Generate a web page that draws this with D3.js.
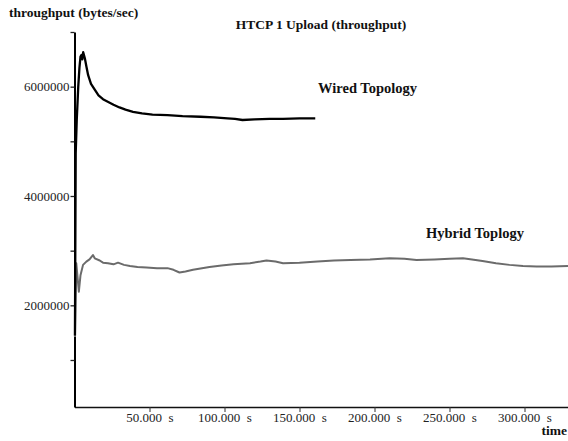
<!DOCTYPE html>
<html>
<head>
<meta charset="utf-8">
<script src="https://cdn.jsdelivr.net/npm/d3@7"></script>
<style>
  body { margin: 0; background: #fff; }
  svg { display: block; font-family: "Liberation Serif", "Times New Roman", serif; }
  .tick text { font-family: "Liberation Serif", "Times New Roman", serif; font-size: 13px; fill: #222; white-space: pre; }
  .label { font-weight: bold; fill: #111; }
</style>
</head>
<body>
<div id="chart"></div>
<script>
const svgWidth = 568
const svgHeight = 441

let margin = { top: 32, right: 0, bottom: 34, left: 74.5 }
let width = svgWidth - margin.left - margin.right
let height = svgHeight - margin.top - margin.bottom

// time in seconds, throughput in bytes/sec
const wiredTime = [0.3, 0.8, 1.5, 2.5, 3.3, 4, 4.7, 5.2, 5.8, 6.9, 8, 9.1, 11, 13.6, 16, 19, 22.5, 26, 30, 34, 39, 45, 52, 62, 72, 84, 93, 102, 107, 112, 120, 130, 139, 150, 160.5]
const wiredValue = [1.45e6, 4.78e6, 5.39e6, 6.0e6, 6.35e6, 6.55e6, 6.58e6, 6.5e6, 6.63e6, 6.52e6, 6.36e6, 6.21e6, 6.05e6, 5.94e6, 5.84e6, 5.77e6, 5.72e6, 5.67e6, 5.62e6, 5.58e6, 5.54e6, 5.51e6, 5.49e6, 5.48e6, 5.46e6, 5.45e6, 5.44e6, 5.42e6, 5.41e6, 5.39e6, 5.4e6, 5.41e6, 5.41e6, 5.42e6, 5.42e6]

const hybridTime = [0.3, 1.2, 2.9, 4, 5.7, 7.9, 10, 12.3, 13.5, 16.8, 19, 22.3, 26, 29, 33, 37, 42, 48, 55, 62, 66, 70, 74, 79, 85, 90, 98, 106, 117, 124, 128, 134, 139, 150, 162, 173, 184, 197, 210, 220, 228, 240, 250, 259, 265, 272, 281, 290, 299, 308, 318, 329]
const hybridValue = [1.42e6, 2.77e6, 2.25e6, 2.55e6, 2.74e6, 2.8e6, 2.84e6, 2.92e6, 2.86e6, 2.82e6, 2.78e6, 2.77e6, 2.75e6, 2.78e6, 2.74e6, 2.72e6, 2.7e6, 2.69e6, 2.68e6, 2.68e6, 2.65e6, 2.6e6, 2.62e6, 2.65e6, 2.68e6, 2.7e6, 2.73e6, 2.75e6, 2.77e6, 2.8e6, 2.82e6, 2.8e6, 2.77e6, 2.78e6, 2.8e6, 2.82e6, 2.83e6, 2.84e6, 2.86e6, 2.85e6, 2.83e6, 2.84e6, 2.85e6, 2.86e6, 2.84e6, 2.81e6, 2.77e6, 2.74e6, 2.72e6, 2.71e6, 2.71e6, 2.72e6]

const xTicks = [50, 100, 150, 200, 250, 300]
const yTicks = [1e6, 2e6, 3e6, 4e6, 5e6, 6e6, 7e6]
const yLabelled = [2e6, 4e6, 6e6]

let svg = d3
  .select("#chart")
  .append("svg")
  .attr("width", svgWidth)
  .attr("height", svgHeight)

let chartGroup = svg
  .append("g")
  .attr("transform", `translate(${margin.left}, ${margin.top})`)

let xScale = d3.scaleLinear().domain([0, 329]).range([0, width])
let yScale = d3.scaleLinear().domain([140000, 7000000]).range([height, 0])

let bottomAxis = d3
  .axisBottom(xScale)
  .tickValues(xTicks)
  .tickFormat(d => d.toFixed(3) + "  s")
  .tickSize(5)
  .tickSizeOuter(0)

let leftAxis = d3
  .axisLeft(yScale)
  .tickValues(yTicks)
  .tickFormat(d => (yLabelled.includes(d) ? d : ""))
  .tickSize(4)
  .tickSizeOuter(0)

let xAxis = chartGroup
  .append("g")
  .attr("transform", `translate(0, ${height})`)
  .call(bottomAxis)
  .attr("font-family", null)
  .attr("font-size", null)
xAxis.select(".domain").attr("stroke", "#111").attr("stroke-width", 1.6)
xAxis.selectAll(".tick line").attr("stroke", "#333")
xAxis.selectAll(".tick text").attr("dy", "0.55em")

let yAxis = chartGroup
  .append("g")
  .call(leftAxis)
  .attr("font-family", null)
  .attr("font-size", null)
yAxis.select(".domain").attr("stroke", "#000").attr("stroke-width", 2)
yAxis.selectAll(".tick line").attr("stroke", "#222").attr("stroke-width", 1.3)
yAxis.selectAll(".tick text").attr("x", -5)

let line = d3
  .line()
  .x(d => xScale(d[0]))
  .y(d => yScale(d[1]))

chartGroup
  .append("path")
  .datum(d3.zip(hybridTime, hybridValue))
  .attr("fill", "none")
  .attr("stroke", "#6b6b6b")
  .attr("stroke-width", 2)
  .attr("stroke-linejoin", "round")
  .attr("d", line)

chartGroup
  .append("path")
  .datum(d3.zip(wiredTime, wiredValue))
  .attr("fill", "none")
  .attr("stroke", "#000")
  .attr("stroke-width", 2.3)
  .attr("stroke-linejoin", "round")
  .attr("d", line)

// labels
svg.append("text").classed("label", true)
  .attr("x", 9).attr("y", 17).attr("font-size", "13.5px")
  .text("throughput (bytes/sec)")

svg.append("text").classed("label", true)
  .attr("x", 321).attr("y", 29).attr("text-anchor", "middle").attr("font-size", "13.5px")
  .text("HTCP 1 Upload (throughput)")

svg.append("text").classed("label", true)
  .attr("x", 567).attr("y", 435).attr("text-anchor", "end").attr("font-size", "13.5px")
  .text("time")

svg.append("text").classed("label", true)
  .attr("x", 318).attr("y", 93).attr("font-size", "14.5px")
  .text("Wired Topology")

svg.append("text").classed("label", true)
  .attr("x", 426).attr("y", 238).attr("font-size", "14.5px")
  .text("Hybrid Toplogy")
</script>
</body>
</html>
